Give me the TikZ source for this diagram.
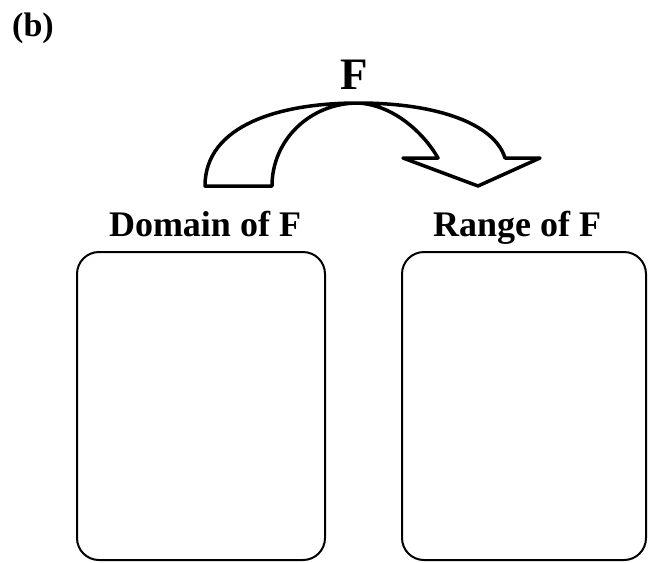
\documentclass[tikz,border=0pt]{standalone}
\usepackage{fontspec}
\setmainfont{Liberation Serif}
\tikzset{
  lbl/.style={font=\fontsize{36}{40}\selectfont\bfseries, anchor=base, inner sep=0pt},
  setbox/.style={draw, line width=2pt, rounded corners=22pt, minimum width=#1, minimum height=308pt, inner sep=0pt},
  bigarrow/.style={draw, line width=3.5pt, line join=round, fill=white}
}
\begin{document}
\begin{tikzpicture}[x=1pt,y=-1pt]
\useasboundingbox (0,0) rectangle (652,562);
\node[lbl, font=\fontsize{34}{38}\selectfont\bfseries, anchor=base west] (b) at (12,36) {(b)};
\node[lbl, font=\fontsize{45}{48}\selectfont\bfseries] (F) at (354,89) {F};
\node[lbl] (dom) at (205,236) {Domain of F};
\node[lbl] (ran) at (517,236) {Range of F};
\node[setbox=248pt] (dbox) at (201,406) {};
\node[setbox=244pt] (rbox) at (524,406) {};
\draw[bigarrow]
  (205,186) .. controls (205,125) and (280,103) .. (358,103)
  .. controls (440,103) and (495,125) .. (505,158)
  -- (540,158) -- (478,186) -- (403,158) -- (438,158)
  .. controls (425,135) and (395,105) .. (358,103)
  .. controls (310,103) and (272,140) .. (272,186) -- cycle;
\end{tikzpicture}
\end{document}
